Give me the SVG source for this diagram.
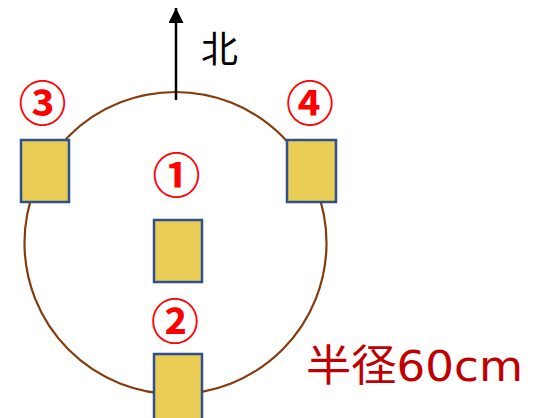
<svg xmlns="http://www.w3.org/2000/svg" width="533" height="418" viewBox="0 0 533 418">
<defs>
<style>
.ring{fill:none;stroke:#843C0C;stroke-width:2.2}
.box{fill:#E9CD55;stroke:#2F528F;stroke-width:2.5}
.num{fill:#FF0000;font-family:"Noto Sans CJK JP","Noto Sans CJK SC",sans-serif;font-weight:bold;font-size:48px;text-anchor:middle}
.north{fill:#000;font-family:"Noto Sans CJK JP",sans-serif;font-size:37px}
.radius{fill:#C00000;font-family:"DejaVu Sans","Noto Sans CJK JP",sans-serif;font-size:43px}
</style>
<marker id="ah" viewBox="0 0 10 10" refX="10" refY="5" markerWidth="6.5" markerHeight="6" orient="auto-start-reverse" markerUnits="strokeWidth">
<path d="M0,0 L10,5 L0,10 z" fill="#000"/>
</marker>
</defs>
<g id="circle"><circle class="ring" cx="175.5" cy="243" r="151"/></g>
<g id="connectors">
<line x1="176" y1="100" x2="176" y2="8" stroke="#000" stroke-width="2.5" marker-end="url(#ah)"/>
</g>
<g id="north"><text class="north" x="201" y="63">北</text></g>
<g id="node1"><rect class="box" x="154" y="220" width="48" height="62"/><text class="num" x="176.5" y="193">①</text></g>
<g id="node2"><rect class="box" x="154" y="354" width="48" height="70"/><text class="num" x="175" y="339">②</text></g>
<g id="node3"><rect class="box" x="21" y="140" width="48" height="62"/><text class="num" x="42.5" y="121">③</text></g>
<g id="node4"><rect class="box" x="287" y="140" width="49" height="62"/><text class="num" x="310" y="121">④</text></g>
<g id="label"><text class="radius" x="306" y="381" textLength="217" lengthAdjust="spacingAndGlyphs">半径60cm</text></g>
</svg>
